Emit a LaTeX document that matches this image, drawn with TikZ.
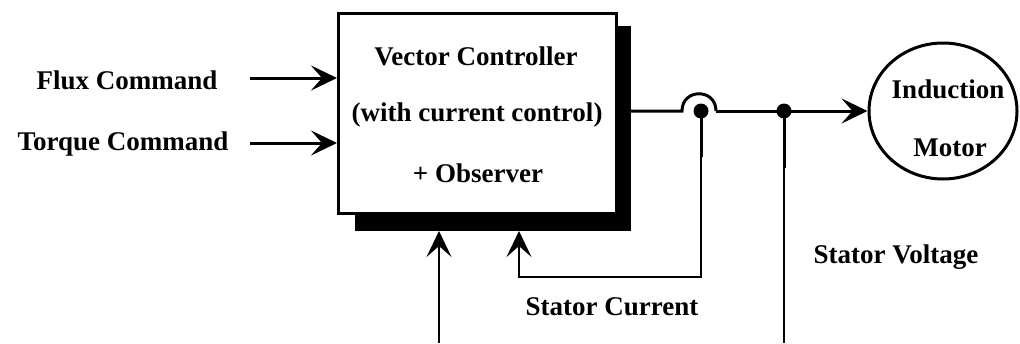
\documentclass[tikz,border=0pt]{standalone}
\usepackage{fontspec}
\setmainfont{Liberation Serif}
\usetikzlibrary{arrows.meta,shapes.geometric}
\begin{document}
\begin{tikzpicture}[x=1pt,y=-1pt,
  lbl/.style={font=\fontsize{27}{30}\selectfont\bfseries, inner sep=0pt},
  wire/.style={line width=3pt},
  fbwire/.style={line width=2pt},
  thinwire/.style={line width=1.5pt},
  tip/.style={-{Stealth[length=26pt,width=25pt,inset=11pt]}},
  junction/.style={circle, fill=black, inner sep=0pt, minimum size=15pt}]
\useasboundingbox (0,0) rectangle (1020,343);

% drop shadow behind the controller block
\fill[black] (355,26) rectangle (631,231);
% controller block
\node[draw, line width=3pt, fill=white, minimum width=278pt, minimum height=200pt,
      inner sep=0pt, anchor=north west] (ctrl) at (337,12) {};
\node[lbl] (t1) at (476,56) {Vector Controller};
\node[lbl] (t2) at (477,115) {(with current control)};
\node[lbl] (t3) at (478,173) {+ Observer};

% motor
\node[draw, ellipse, line width=3pt, minimum width=148pt, minimum height=136pt,
      inner sep=0pt] (motor) at (943,111) {};
\node[lbl] (m1) at (948,89) {Induction};
\node[lbl] (m2) at (950,148) {Motor};

% command inputs
\node[lbl] (flux) at (127,80) {Flux Command};
\node[lbl] (torque) at (123,144) {Torque Command};
\coordinate (fluxs) at (250,78);
\coordinate (torqs) at (250,143);
\draw[wire,tip] (fluxs) -- (fluxs -| ctrl.west);
\draw[wire,tip] (torqs) -- (torqs -| ctrl.west);

% output line with hop and junctions
\coordinate (out) at (631,111);
\coordinate (hopa) at (682,111);
\coordinate (hopb) at (716,111);
\node[junction] (j1) at (701,111) {};
\node[junction] (j2) at (784,111) {};
\draw[wire] (out) -- (hopa) .. controls (682,88) and (716,88) .. (hopb);
\draw[wire,tip] (hopb) -- (motor.west);

% stator current feedback
\coordinate (fbc) at (519,277);
\coordinate (fbin) at (519,231);
\draw[wire] (j1.center) -- (701,157);
\draw[fbwire,tip] (j1.center) |- (fbc) -- (fbin);

% second bottom input
\coordinate (obss) at (439,343);
\coordinate (obsin) at (439,231);
\draw[thinwire,tip] (obss) -- (obsin);

% stator voltage tap
\coordinate (vend) at (784,343);
\draw[wire] (j2.center) -- (784,168);
\draw[thinwire] (j2.center) -- (vend);

\node[lbl] (sv) at (896,257) {Stator Voltage};
\node[lbl] (sc) at (612,307) {Stator Current};
\end{tikzpicture}
\end{document}
